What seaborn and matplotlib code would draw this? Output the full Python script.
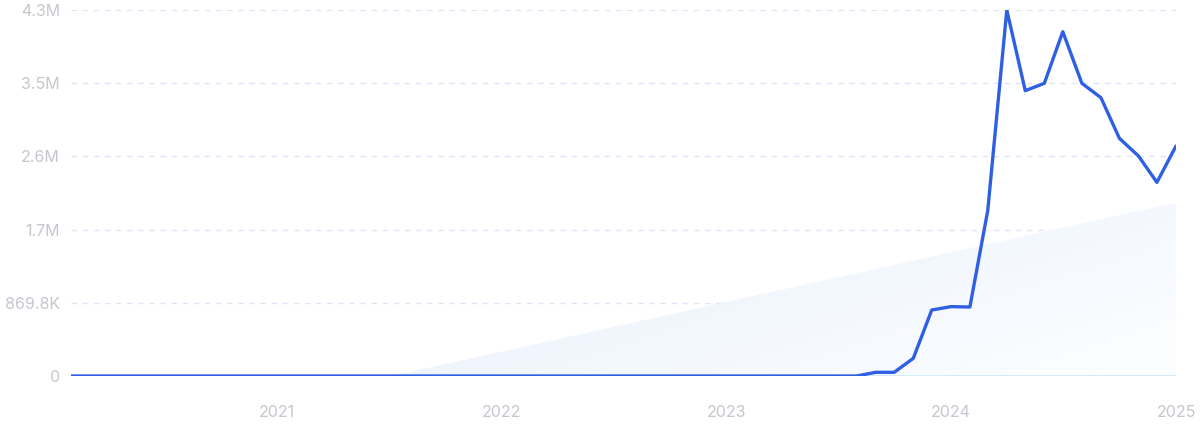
import matplotlib
matplotlib.use("Agg")
import matplotlib.pyplot as plt
import matplotlib.dates as mdates
from matplotlib.patches import Polygon
import numpy as np
import pandas as pd
import seaborn as sns

# Monthly search volume, Feb 2020 .. Jan 2025
months = pd.date_range("2020-02-01", "2025-01-01", freq="MS")
volume = [0] * 43 + [
    44_000, 44_000, 210_000, 784_000, 824_000, 820_000, 1_964_000,
    4_349_000, 3_390_000, 3_478_000, 4_091_000, 3_478_000, 3_307_000,
    2_824_000, 2_614_000, 2_301_000, 2_733_000,
]

# Trend overlay (start / end of the shaded wedge)
trend_dates = pd.to_datetime(["2021-07-06", "2025-01-01"])
trend_values = [0, 2_060_000]

y_ticks = [0, 869_800, 1_739_600, 2_609_400, 3_479_200, 4_349_000]
y_labels = ["0", "869.8K", "1.7M", "2.6M", "3.5M", "4.3M"]
x_ticks = pd.to_datetime(["2021-01-01", "2022-01-01", "2023-01-01", "2024-01-01", "2025-01-01"])
x_labels = ["2021", "2022", "2023", "2024", "2025"]

df = pd.DataFrame({"month": months, "volume": volume})

sns.set_style("white")
plt.rcParams["font.family"] = ["Inter", "DejaVu Sans"]

fig = plt.figure(figsize=(12, 4.32), dpi=100)
ax = fig.add_axes([71 / 1200, 1 - 376 / 432, 1105 / 1200, 366 / 432])

# shaded trend wedge with a soft gradient
tx = mdates.date2num(trend_dates)
poly = Polygon([(tx[0], trend_values[0]), (tx[1], trend_values[1]), (tx[1], 0)],
               closed=True, facecolor="none", edgecolor="none")
ax.add_patch(poly)
grad = np.linspace(0, 1, 256)
gx, gy = np.meshgrid(grad, grad)
g = 1 - (0.6 * gx + 0.4 * gy)
cmap = matplotlib.colors.LinearSegmentedColormap.from_list("w", ["#fdfeff", "#e7f0fd"])
im = ax.imshow(g, cmap=cmap, extent=[tx[0], tx[1], 0, trend_values[1]],
               origin="upper", aspect="auto", zorder=1, vmin=0, vmax=1)
im.set_clip_path(poly)

for yv in y_ticks[1:]:
    ax.axhline(yv, color="#dce6f6", lw=1, ls=(0, (4, 4)), zorder=0)
ax.axhline(0, color="#cde8fb", lw=1.2, zorder=2)

sns.lineplot(data=df, x="month", y="volume", ax=ax, color="#2f5fe3",
             linewidth=2.4, zorder=3)

ax.set_xlim(months[0], months[-1])
ax.set_ylim(0, y_ticks[-1])
ax.set_yticks(y_ticks)
ax.set_yticklabels(y_labels)
ax.set_xticks(x_ticks)
ax.set_xticklabels(x_labels)
ax.set_xlabel("")
ax.set_ylabel("")
ax.tick_params(axis="y", length=0, pad=8, labelsize=11.5, colors="#c6c6cf")
ax.tick_params(axis="x", length=0, pad=21, labelsize=11.5, colors="#c6c6cf")
for s in ax.spines.values():
    s.set_visible(False)

fig.savefig("out.png", dpi=100)
